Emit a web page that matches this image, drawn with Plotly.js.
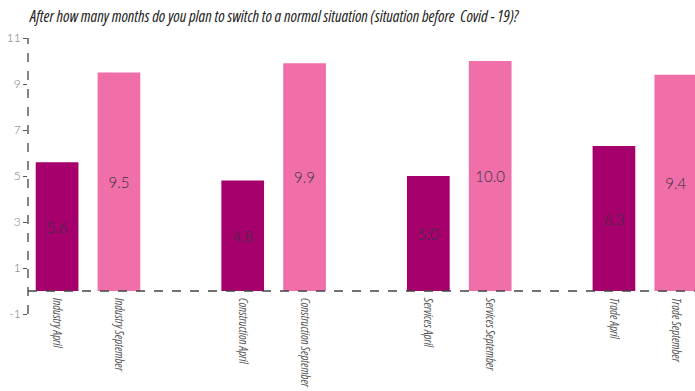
<!DOCTYPE html>
<html>
<head>
<meta charset="utf-8">
<script src="https://cdn.plot.ly/plotly-3.0.1.min.js"></script>
<style>
  html, body { margin: 0; padding: 0; background: #fff; }
  #chart { width: 695px; height: 391px; }
  .gtitle, .xtick text { font-stretch: 75% !important; }
</style>
</head>
<body>
<div id="chart"></div>
<script>
// Planned months until returning to the pre-Covid situation, by sector and survey wave
const sectors = ["Industry", "Construction", "Services", "Trade"];
const aprilValues = [5.6, 4.8, 5.0, 6.3];
const septemberValues = [9.5, 9.9, 10.0, 9.4];
const yTicks = [-1, 1, 3, 5, 7, 9, 11];

const aprilLabels = sectors.map(s => s + " April");
const septemberLabels = sectors.map(s => s + " September");

// Category order with an empty slot between sectors
const categoryOrder = [];
sectors.forEach((s, i) => {
  categoryOrder.push(aprilLabels[i], septemberLabels[i]);
  if (i < sectors.length - 1) categoryOrder.push(" ".repeat(i + 1));
});

const condensed = "'Open Sans', 'DejaVu Sans', sans-serif";
const labelFont = { family: "Lato, 'Open Sans', sans-serif", size: 15, color: "#333340", weight: 300 };
const axisFont = { family: condensed, size: 11.8, color: "#555", style: "italic" };

const traces = [
  {
    type: "bar",
    name: "April",
    x: aprilLabels,
    y: aprilValues,
    text: aprilValues.map(v => v.toFixed(1)),
    textposition: "inside",
    insidetextanchor: "middle",
    textfont: labelFont,
    marker: { color: "#a5006b" },
    hoverinfo: "x+y"
  },
  {
    type: "bar",
    name: "September",
    x: septemberLabels,
    y: septemberValues,
    text: septemberValues.map(v => v.toFixed(1)),
    textposition: "inside",
    insidetextanchor: "middle",
    textfont: labelFont,
    marker: { color: "#f06fa8" },
    hoverinfo: "x+y"
  }
];

const layout = {
  width: 695,
  height: 391,
  margin: { l: 28, r: 0, t: 38, b: 77 },
  paper_bgcolor: "#fff",
  plot_bgcolor: "#fff",
  showlegend: false,
  barmode: "overlay",
  bargap: 0.31,
  title: {
    text: "After how many months do you plan to switch to a normal situation (situation before  Covid - 19)?",
    font: { family: condensed, size: 16, color: "#222", style: "italic" },
    xref: "container", x: 0.043, xanchor: "left",
    yref: "container", y: 0.958, yanchor: "middle"
  },
  xaxis: {
    type: "category",
    categoryorder: "array",
    categoryarray: categoryOrder,
    range: [-0.47, 10.31],
    tickangle: 90,
    tickfont: axisFont,
    ticklabelstandoff: -17,
    showgrid: false,
    showline: false,
    zeroline: false,
    ticks: ""
  },
  yaxis: {
    range: [-1, 11],
    tickvals: yTicks,
    ticktext: yTicks.map(String),
    ticks: "outside",
    ticklen: 4,
    tickcolor: "#555",
    tickfont: { family: "Lato, 'Open Sans', sans-serif", size: 12, color: "#777", weight: 300 },
    showgrid: false,
    showline: false,
    zeroline: false
  },
  shapes: [
    { type: "line", xref: "paper", yref: "y", x0: 0, x1: 0, y0: -1, y1: 11,
      line: { color: "#444", width: 1.3, dash: "dash" } },
    { type: "line", xref: "paper", yref: "y", x0: 0, x1: 1, y0: 0, y1: 0,
      line: { color: "#444", width: 1.3, dash: "dash" } }
  ]
};

Plotly.newPlot("chart", traces, layout, { displayModeBar: false, staticPlot: true });
</script>
</body>
</html>
